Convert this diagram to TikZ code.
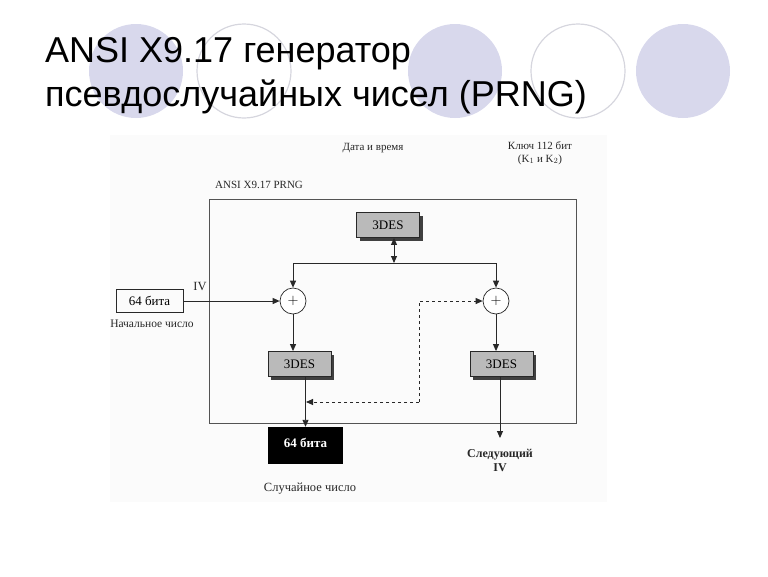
\documentclass[tikz,border=0pt]{standalone}
\usepackage{fontspec}
\setmainfont{Liberation Serif}
\newfontfamily\titlefont{Liberation Sans}
\usepackage{tikz}
\usetikzlibrary{arrows.meta,positioning,shadows}
\definecolor{lilac}{RGB}{216,216,236}
\definecolor{ringgrey}{RGB}{214,214,222}
\definecolor{desgrey}{RGB}{186,186,186}
\definecolor{ink}{RGB}{40,40,40}
\definecolor{scanbg}{RGB}{251,251,251}

\begin{document}
\begin{tikzpicture}[x=1pt,y=-1pt,
  lbl/.style={inner sep=0pt,font=\fontsize{11}{12}\selectfont,text=ink},
  desbox/.style={draw=ink,fill=desgrey,line width=0.8pt,minimum width=63pt,
                 minimum height=25pt,inner sep=0pt,font=\fontsize{13}{14}\selectfont,
                 drop shadow={shadow xshift=3pt,shadow yshift=-3pt,fill=black!75,opacity=1}},
  xorc/.style={circle,draw=ink,fill=white,line width=0.7pt,minimum size=26pt,inner sep=0pt,
               font=\fontsize{14}{14}\selectfont},
  ar/.style={-{Triangle[length=7pt,width=6pt]},line width=0.9pt,draw=ink},
  dar/.style={{Triangle[length=7pt,width=6pt]}-{Triangle[length=7pt,width=6pt]},
              line width=0.9pt,draw=ink}]
\useasboundingbox (0,0) rectangle (768,576);

% slide decoration
\fill[lilac] (136,71) circle (47);
\draw[ringgrey,line width=1.2pt] (244,71) circle (47);
\fill[lilac] (455,71) circle (47);
\draw[ringgrey,line width=1.2pt] (578,71) circle (47);
\fill[lilac] (683,71) circle (47);

\node[anchor=base west,inner sep=0pt,font=\titlefont\fontsize{36}{40}\selectfont] (t1) at (45,62)
  {ANSI X9.17 генератор};
\node[anchor=base west,inner sep=0pt,font=\titlefont\fontsize{36}{40}\selectfont] (t2) at (45,106)
  {псевдослучайных чисел (PRNG)};

\fill[scanbg] (110,135) rectangle (607,502);

\node[lbl] (dt) at (373,148) {Дата и время};
\node[lbl,align=center,font=\fontsize{11}{12.5}\selectfont] (key) at (540,153)
  {Ключ 112 бит\\(K$_1$ и K$_2$)};
\node[lbl,anchor=west] (prnglbl) at (215,185) {ANSI X9.17 PRNG};

\node[draw=ink!80,line width=1pt,minimum width=367pt,minimum height=224pt] (prng) at (392.5,311) {};

\node[desbox] (des0) at (388,225) {3DES};
\node[xorc] (x1) at (293,301) {\raisebox{-1.5pt}{$+$}};
\node[xorc] (x2) at (496,301) {\raisebox{-1.5pt}{$+$}};
\node[desbox] (des1) at (299.5,364) {3DES};
\node[desbox] (des2) at (501.5,364) {3DES};

\node[draw=ink,line width=0.8pt,minimum width=67pt,minimum height=23pt,inner sep=0pt,
      font=\fontsize{13}{14}\selectfont] (seed) at (149.5,301) {64 бита};
\node[lbl,font=\fontsize{11.5}{12}\selectfont] (seedlbl) at (152,324) {Начальное число};
\node[lbl,font=\fontsize{12.5}{13}\selectfont] (iv) at (200,286) {IV};

\node[fill=black,minimum width=75pt,minimum height=37pt,inner sep=0pt,text=white,
      font=\bfseries\fontsize{13}{14}\selectfont] (rnd) at (305.5,445.5) {\raisebox{5pt}{64 бита}};
\node[lbl,font=\fontsize{12.5}{13}\selectfont] (rndlbl) at (310,489) {Случайное число};
\node[lbl,align=center,font=\bfseries\fontsize{12}{14}\selectfont] (nxt) at (500,460)
  {Следующий\\IV};

\coordinate (split) at (394,263);
\coordinate (tap) at (306,402);
\coordinate (fb) at (419,402);
\coordinate (nxtend) at (500,438);

\draw[dar] (des0.south -| split) -- (split);
\draw[ar] (split) -| (x1.north);
\draw[ar] (split) -| (x2.north);
\draw[ar] (seed.east) -- (x1.west);
\draw[ar] (x1.south) -- (x1.south |- des1.north);
\draw[ar] (x2.south) -- (x2.south |- des2.north);
\draw[ar] (des1.south -| rnd.north) -- (rnd.north);
\draw[ar] (des2.south -| nxtend) -- (nxtend);
\draw[ar,dashed] (fb) -- (tap);
\draw[ar,dashed] (fb) |- (x2.west);
\end{tikzpicture}
\end{document}
